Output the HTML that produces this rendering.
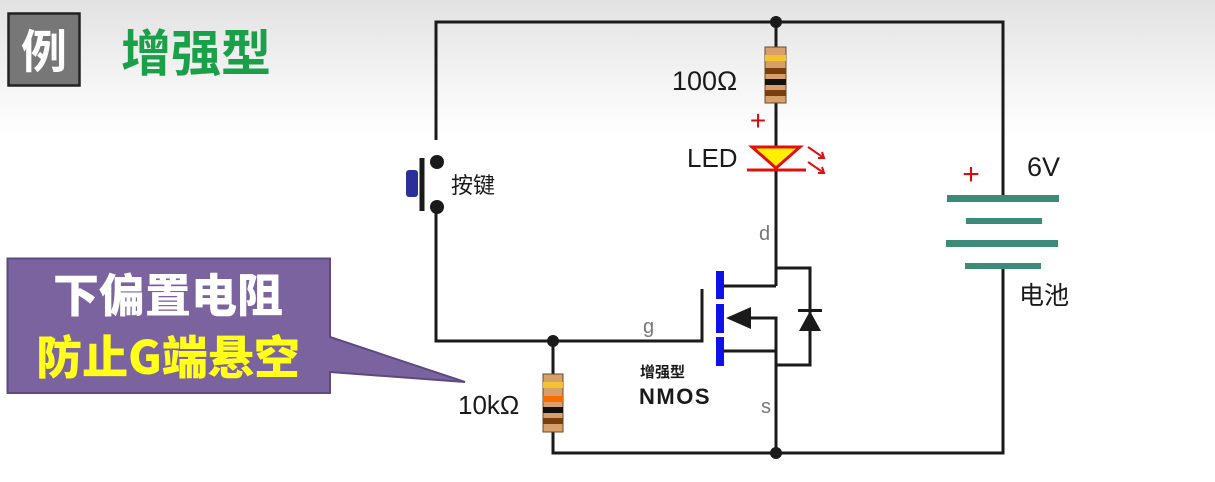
<!DOCTYPE html>
<html><head><meta charset="utf-8"><style>
html,body{margin:0;padding:0}
body{width:1215px;height:482px;overflow:hidden;background:linear-gradient(#e2e2e2 0px,#f6f6f6 90px,#fff 140px,#fff 100%);font-family:"Liberation Sans","Noto Sans CJK SC",sans-serif}
</style></head><body>
<svg width="1215" height="482" viewBox="0 0 1215 482" xmlns="http://www.w3.org/2000/svg" style="position:absolute;left:0;top:0">
<rect x="8.5" y="13.5" width="71" height="72" fill="#777" stroke="#222" stroke-width="2.5"/>
<text x="44" y="68" font-size="46" font-weight="bold" fill="#fff" text-anchor="middle" font-family="Noto Sans CJK SC,sans-serif">例</text>
<text x="121" y="71" font-size="50" font-weight="bold" fill="#1ba04a" font-family="Noto Sans CJK SC,sans-serif">增强型</text>

<g stroke="#1a1a1a" stroke-width="3" fill="none">
<polyline points="436,140 436,22 1003,22 1003,453 553,453 553,432"/>
<polyline points="436,207 436,341 702,341 702,289"/>
<line x1="553" y1="341" x2="553" y2="374"/>
<line x1="776" y1="22" x2="776" y2="286"/>
<polyline points="724,286 776,286"/>
<polyline points="776,268 810,268 810,365 776,365"/>
<polyline points="724,351 776,351 776,453"/>
<polyline points="742,318 776,318 776,351"/>
<line x1="422" y1="158" x2="422" y2="211" stroke-width="5"/>
</g>
<g fill="#1a1a1a">
<circle cx="776" cy="22" r="6"/>
<circle cx="437" cy="162" r="7"/>
<circle cx="437" cy="207" r="7"/>
<circle cx="553" cy="341" r="6"/>
<circle cx="776" cy="453" r="6"/>
<polygon points="726,318 751,307 751,329"/>
<polygon points="810,311 799,331 821,331"/>
<rect x="798" y="309" width="24" height="3"/>
</g>
<rect x="406" y="170" width="12" height="27" rx="3" fill="#2b2f9a"/>
<g fill="#1010e8">
<rect x="716" y="271" width="8" height="28"/>
<rect x="716" y="304" width="8" height="29"/>
<rect x="716" y="337" width="8" height="29"/>
</g>
<rect x="765" y="47" width="21" height="56" fill="#d7a06a" stroke="#6b4a2a" stroke-width="1"/>
<rect x="765" y="55" width="21" height="6" fill="#f4c430"/>
<rect x="765" y="68" width="21" height="6" fill="#7a3d10"/>
<rect x="765" y="79" width="21" height="6" fill="#111"/>
<rect x="765" y="90" width="21" height="6" fill="#7a3d10"/>
<rect x="543" y="374" width="20" height="58" fill="#d7a06a" stroke="#6b4a2a" stroke-width="1"/>
<rect x="543" y="382" width="20" height="6" fill="#f4c430"/>
<rect x="543" y="396" width="20" height="6" fill="#ff6a00"/>
<rect x="543" y="407" width="20" height="6" fill="#111"/>
<rect x="543" y="418" width="20" height="6" fill="#7a3d10"/>
<polygon points="752,147 800,147 776,168" fill="#ffef00" stroke="#e01010" stroke-width="3"/>
<line x1="747" y1="170" x2="806" y2="170" stroke="#e01010" stroke-width="3"/>
<g stroke="#e01010" stroke-width="2" fill="none">
<line x1="808" y1="147" x2="824" y2="158"/><polyline points="818,158 824,158 822,152"/>
<line x1="808" y1="162" x2="824" y2="173"/><polyline points="818,173 824,173 822,167"/>
</g>
<text x="758" y="130" font-size="28" fill="#d01010" text-anchor="middle">+</text>
<rect x="999" y="196" width="8" height="72" fill="#fff"/>
<g fill="#3e8a78">
<rect x="947" y="195" width="112" height="7"/>
<rect x="966" y="218" width="76" height="6"/>
<rect x="946" y="240" width="112" height="7"/>
<rect x="965" y="263" width="76" height="6"/>
</g>
<text x="971" y="184" font-size="30" fill="#d01010" text-anchor="middle">+</text>
<g fill="#1a1a1a" font-size="26">
<text x="672" y="90" font-size="27">100Ω</text>
<text x="687" y="167">LED</text>
<text x="1027" y="176" font-size="27">6V</text>
<text x="1019" y="304" font-size="25" font-family="Noto Sans CJK SC,sans-serif">电池</text>
<text x="451" y="193" font-size="22" font-family="Noto Sans CJK SC,sans-serif">按键</text>
<text x="458" y="414" font-size="26">10kΩ</text>
<text x="640" y="377" font-size="15" font-weight="bold" font-family="Noto Sans CJK SC,sans-serif">增强型</text>
<text x="639" y="404" font-size="22" font-weight="bold" letter-spacing="1.5">NMOS</text>
</g>
<g fill="#777" font-size="20">
<text x="759" y="240">d</text>
<text x="643" y="333">g</text>
<text x="761" y="413">s</text>
</g>
<path d="M7.5,258.5 L330,258.5 L330,337 L465,382 L330,372 L330,393 L7.5,393 Z" fill="#7b63a0" stroke="#5d4a80" stroke-width="2"/>
<text x="168" y="312" font-size="46" font-weight="900" fill="#fff" text-anchor="middle" font-family="Noto Sans CJK SC,sans-serif">下偏置电阻</text>
<text x="168" y="374" font-size="46" font-weight="900" fill="#ffff1a" text-anchor="middle" font-family="Noto Sans CJK SC,sans-serif">防止G端悬空</text>
</svg>
</body></html>
